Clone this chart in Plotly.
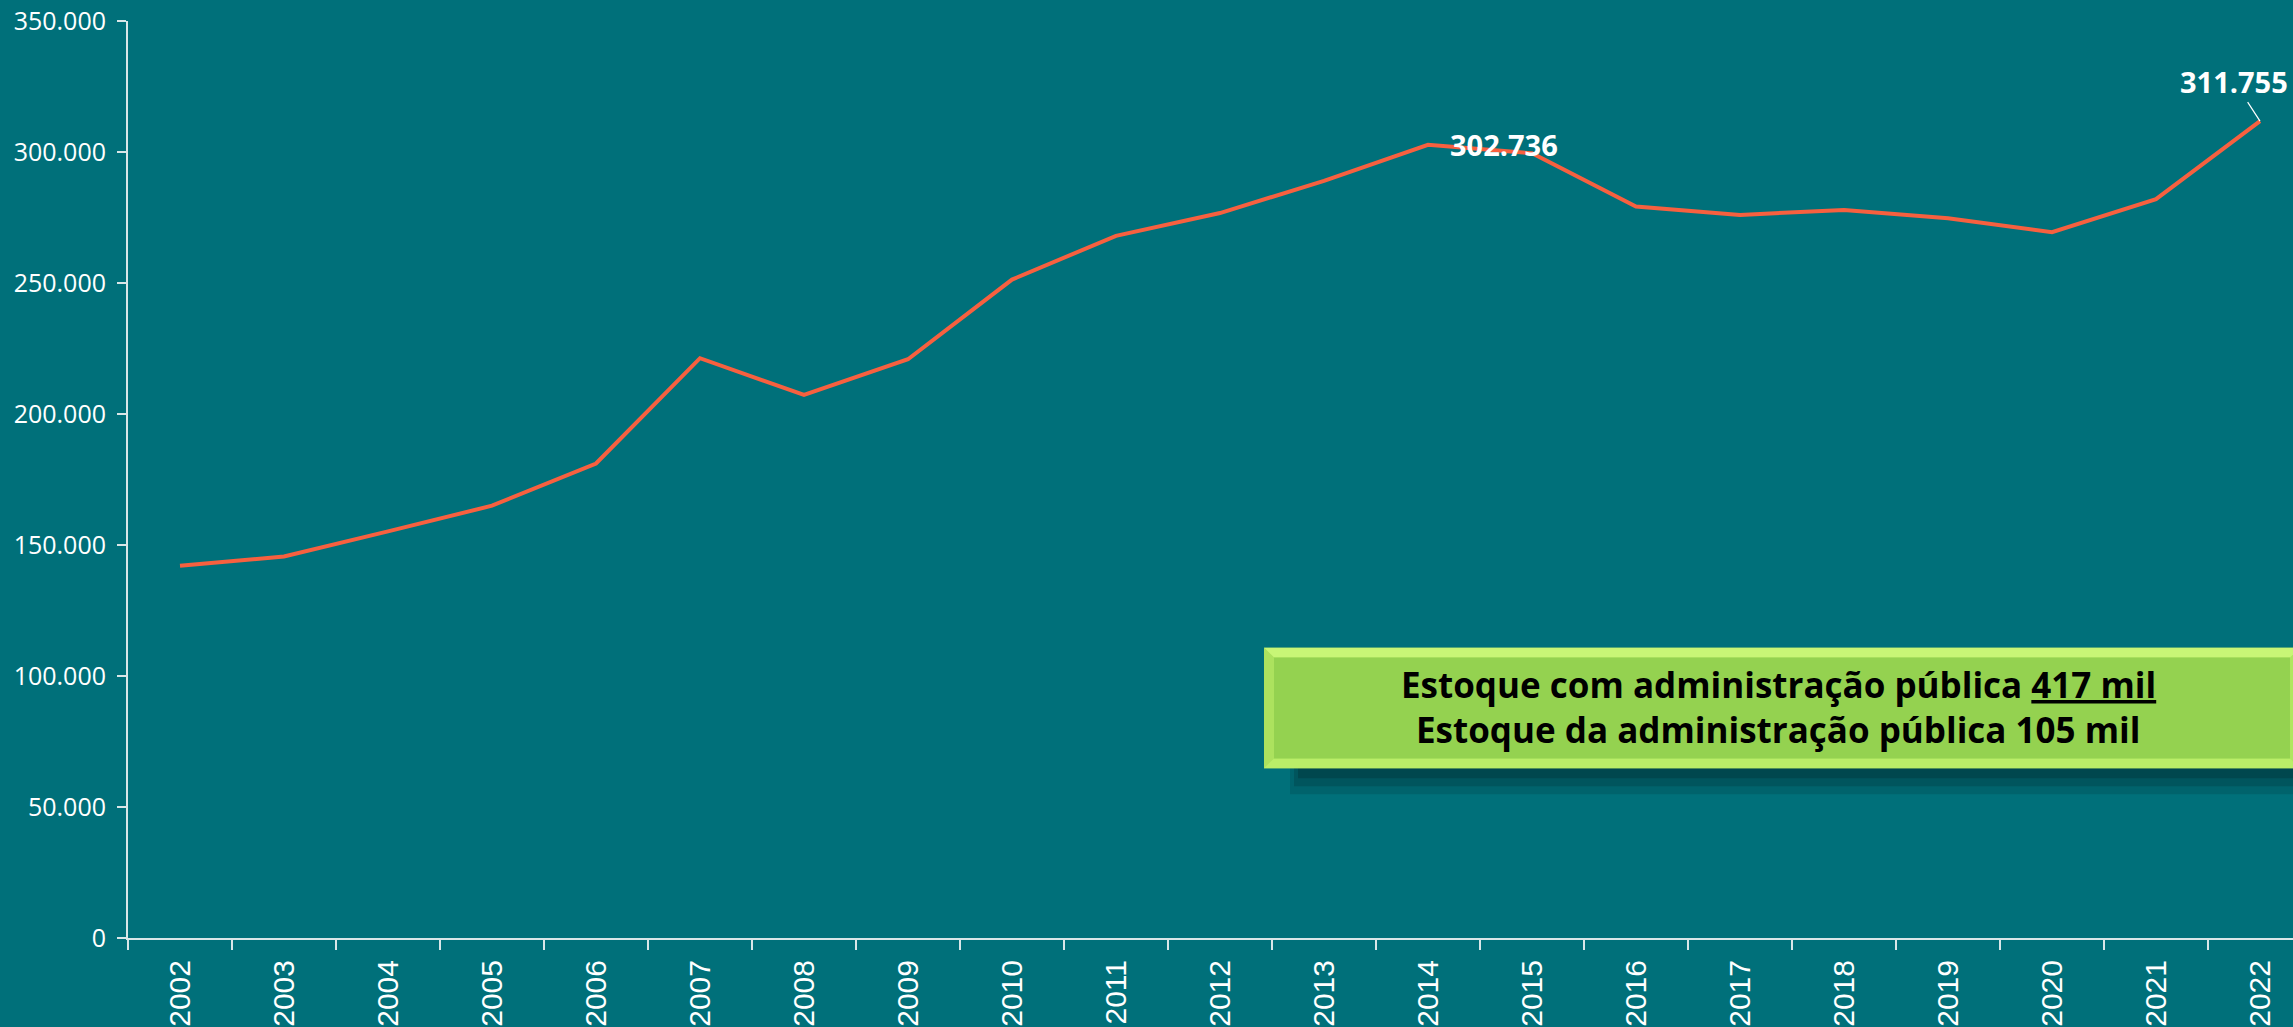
import plotly.graph_objects as go

years = [str(y) for y in range(2002, 2023)]
values = [142100, 145600, 155200, 165000, 181100, 221300, 207300, 220900,
          251300, 268000, 276700, 289000, 302736, 299500, 279200, 276000,
          277900, 274700, 269400, 282000, 311755]
y_tickvals = [0, 50000, 100000, 150000, 200000, 250000, 300000, 350000]
box_line1 = "Estoque com administração pública <u>417 mil</u>"
box_line2 = "Estoque da administração pública 105 mil"

W, H = 2293, 1027
L, R, T, B = 128, 0, 21, 87
BG = "#00707A"
LINE = "#F7603F"
AX = "#D9E6E8"

def px(x):
    return (x - L) / (W - L - R)

def py(y):
    return (H - B - y) / (H - T - B)

fig = go.Figure()
fig.add_trace(go.Scatter(x=years, y=values, mode="lines",
                         line=dict(color=LINE, width=4), hoverinfo="skip",
                         showlegend=False))

shapes = []
for i, (dy, op) in enumerate([(26, 0.15), (18, 0.2), (10, 0.25)]):
    shapes.append(dict(type="rect", xref="paper", yref="paper",
                       x0=px(1290 + i * 4), x1=px(2300), y0=py(770 + dy), y1=py(700),
                       fillcolor=f"rgba(0,30,35,{op})", line=dict(width=0), layer="above"))
bx0, bx1, by0, by1, bev = 1264, 2300, 649, 770, 10
shapes.append(dict(type="rect", xref="paper", yref="paper",
                   x0=px(bx0), x1=px(bx1), y0=py(by1), y1=py(by0),
                   fillcolor="#B0E660", line=dict(width=0), layer="above"))

def poly(pts, color):
    path = "M " + " L ".join(f"{px(a)},{py(b)}" for a, b in pts) + " Z"
    return dict(type="path", xref="paper", yref="paper", path=path,
                fillcolor=color, line=dict(width=0), layer="above")

shapes.append(poly([(bx0, by0), (bx1, by0), (bx1 - bev, by0 + bev), (bx0 + bev, by0 + bev)], "#C8F676"))
shapes.append(poly([(bx0, by0), (bx0 + bev, by0 + bev), (bx0 + bev, by1 - bev), (bx0, by1)], "#ACE25E"))
shapes.append(poly([(bx0, by1), (bx0 + bev, by1 - bev), (bx1 - bev, by1 - bev), (bx1, by1)], "#BAEE68"))
shapes.append(dict(type="rect", xref="paper", yref="paper",
                   x0=px(bx0 + bev), x1=px(bx1 - bev), y0=py(by1 - bev), y1=py(by0 + bev),
                   fillcolor="#94D250", line=dict(width=0), layer="above"))

annotations = [
    dict(x=12, y=302736, xref="x", yref="y", text="<b>302.736</b>",
         showarrow=False, xanchor="center", yanchor="middle", xshift=76, yshift=0,
         font=dict(family="Open Sans", size=29, color="white")),
    dict(x=20, y=311755, xref="x", yref="y", text="<b>311.755</b>",
         showarrow=True, arrowhead=0, arrowwidth=1.2, arrowcolor="white",
         ax=-26, ay=-40, standoff=0, xanchor="center", yanchor="middle",
         font=dict(family="Open Sans", size=29, color="white")),
    dict(x=px(1778), y=py(686), xref="paper", yref="paper", text=f"<b>{box_line1}</b>",
         showarrow=False, xanchor="center", yanchor="middle",
         font=dict(family="Open Sans", size=35, color="black")),
    dict(x=px(1778), y=py(731), xref="paper", yref="paper", text=f"<b>{box_line2}</b>",
         showarrow=False, xanchor="center", yanchor="middle",
         font=dict(family="Open Sans", size=35, color="black")),
]

fig.update_layout(
    width=W, height=H,
    margin=dict(l=L, r=R, t=T, b=B),
    paper_bgcolor=BG, plot_bgcolor=BG,
    separators=",.",
    showlegend=False,
    shapes=shapes,
    annotations=annotations,
    xaxis=dict(type="category", range=[-0.5, (W - L) / 104.0 - 0.5],
               showgrid=False, zeroline=False,
               showline=True, linecolor=AX, linewidth=2,
               ticks="outside", tickson="boundaries", ticklen=10, tickcolor=AX, tickwidth=2,
               tickangle=-90, ticklabelstandoff=8,
               tickfont=dict(family="Liberation Sans", size=30, color="white")),
    yaxis=dict(range=[0, 350000], tickvals=y_tickvals, tickformat=",d",
               showgrid=False, zeroline=False,
               showline=True, linecolor=AX, linewidth=2,
               ticks="outside", ticklen=9, tickcolor=AX, tickwidth=2,
               ticklabelstandoff=6,
               tickfont=dict(family="Open Sans", size=25, color="white")),
)

fig.write_html("out.html", config={"displayModeBar": False},
               post_script="document.body.style.margin='0';document.body.style.overflow='hidden';")
